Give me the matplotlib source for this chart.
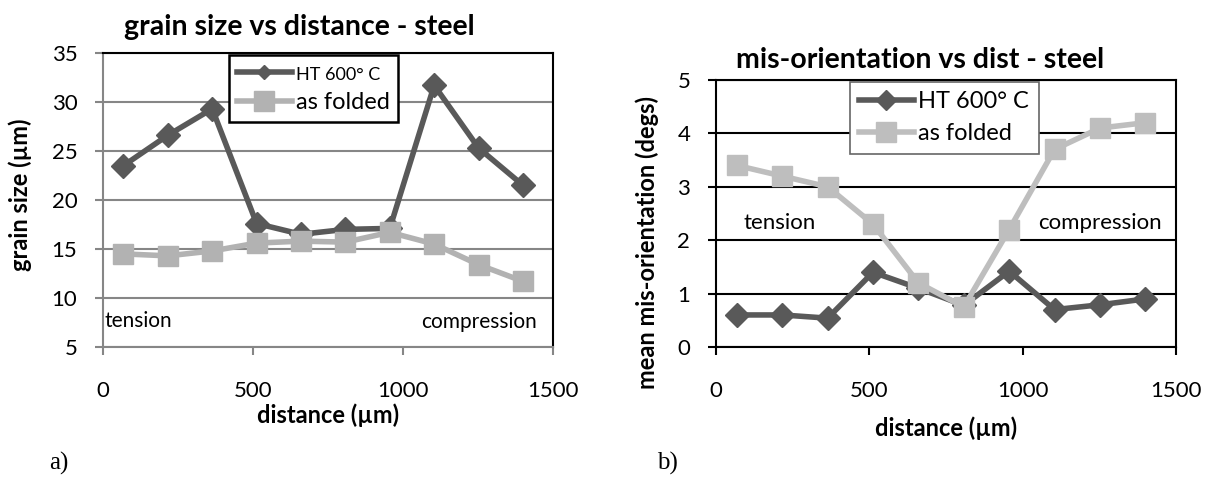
import matplotlib.pyplot as plt
from matplotlib.lines import Line2D

# distance positions (um), same for both panels
distance = [68, 216, 364, 512, 660, 808, 956, 1104, 1252, 1400]

# a) grain size (um)
grain_ht600 = [23.5, 26.6, 29.3, 17.6, 16.5, 17.0, 17.1, 31.7, 25.3, 21.5]
grain_folded = [14.5, 14.3, 14.8, 15.6, 15.8, 15.7, 16.7, 15.5, 13.4, 11.7]

# b) mean mis-orientation (degs)
misor_ht600 = [0.6, 0.6, 0.54, 1.4, 1.1, 0.78, 1.42, 0.7, 0.79, 0.9]
misor_folded = [3.4, 3.2, 3.0, 2.3, 1.2, 0.75, 2.2, 3.7, 4.1, 4.2]

series_labels = ["HT 600° C", "as folded"]

dark = "#595959"
light_a = "#b2b2b2"
light_b = "#bebebe"
grey_axis = "#868686"
lw = 4.0

plt.rcParams["font.family"] = "Lato"

fig = plt.figure(figsize=(12.13, 4.79), dpi=100)

# =============================================================================
# a) grain size vs distance
# =============================================================================
ax1 = fig.add_axes([0.0849, 0.2756, 0.371, 0.6138])
ax1.plot(distance, grain_ht600, color=dark, lw=lw, marker="D", ms=12,
         zorder=3)
ax1.plot(distance, grain_folded, color=light_a, lw=lw, marker="s", ms=14.5,
         zorder=4)
ax1.set_xlim(0, 1500)
ax1.set_ylim(5, 35)
ax1.set_xticks([0, 500, 1000, 1500])
ax1.set_yticks(range(5, 40, 5))
ax1.yaxis.grid(True, color=grey_axis, lw=1.5)
ax1.set_axisbelow(True)
for s in ["top", "right"]:
    ax1.spines[s].set_color("black")
    ax1.spines[s].set_linewidth(1.5)
for s in ["left", "bottom"]:
    ax1.spines[s].set_color(grey_axis)
    ax1.spines[s].set_linewidth(1.5)
ax1.tick_params(axis="both", labelsize=16, color=grey_axis, width=1.5,
                length=5.5)
ax1.tick_params(axis="y", pad=13)
ax1.tick_params(axis="x", pad=19)
ax1.set_xlabel("distance (µm)", fontsize=17, fontweight="bold", va="center")
ax1.xaxis.set_label_coords(0.5, -0.231)
ax1.set_ylabel("grain size (µm)", fontsize=17, fontweight="bold",
               va="center")
ax1.yaxis.set_label_coords(-0.184, 0.517)
ax1.text(5, 7.7, "tension", fontsize=15, va="center", ha="left")
ax1.text(1447, 7.6, "compression", fontsize=15, va="center", ha="right")

h1 = [Line2D([], [], color=dark, lw=lw, marker="D", ms=7),
      Line2D([], [], color=light_a, lw=lw, marker="s", ms=14.5)]
leg1 = ax1.legend(h1, series_labels, loc="upper left", fontsize=17,
                  bbox_to_anchor=(0.28, 0.993), frameon=True, fancybox=False,
                  edgecolor="black", framealpha=1, borderpad=0.35,
                  borderaxespad=0, handlelength=2.3, handletextpad=0.2,
                  labelspacing=0.4)
leg1.get_frame().set_linewidth(1.8)
leg1.get_texts()[0].set_fontsize(13)

fig.text(0.2465, 0.9436, "grain size vs distance - steel", ha="center",
         va="center", fontsize=20.5, fontweight="bold")
fig.text(0.0486, 0.033, "a)", fontsize=18, family="Liberation Serif",
         ha="center", va="center")

# =============================================================================
# b) mis-orientation vs distance
# =============================================================================
ax2 = fig.add_axes([0.5903, 0.2756, 0.3792, 0.5574])
ax2.plot(distance, misor_ht600, color=dark, lw=lw, marker="D", ms=12,
         zorder=3)
ax2.plot(distance, misor_folded, color=light_b, lw=lw, marker="s", ms=14.5,
         zorder=4)
ax2.set_xlim(0, 1500)
ax2.set_ylim(0, 5)
ax2.set_xticks([0, 500, 1000, 1500])
ax2.set_yticks(range(0, 6))
ax2.yaxis.grid(True, color="black", lw=1.5)
ax2.set_axisbelow(True)
for s in ax2.spines.values():
    s.set_color("black")
    s.set_linewidth(1.5)
ax2.tick_params(axis="both", labelsize=16, color="black", width=1.5,
                length=5.5)
ax2.tick_params(axis="y", pad=13)
ax2.tick_params(axis="x", pad=19)
ax2.set_xlabel("distance (µm)", fontsize=17, fontweight="bold", va="center")
ax2.xaxis.set_label_coords(0.5, -0.303)
ax2.set_ylabel("mean mis-orientation (degs)", fontsize=17, fontweight="bold",
               va="center")
ax2.yaxis.set_label_coords(-0.15, 0.39)
ax2.text(88, 2.32, "tension", fontsize=16, va="center", ha="left")
ax2.text(1454, 2.32, "compression", fontsize=16, va="center", ha="right")

h2 = [Line2D([], [], color=dark, lw=lw, marker="D", ms=10),
      Line2D([], [], color=light_b, lw=lw, marker="s", ms=14.5)]
leg2 = ax2.legend(h2, series_labels, loc="upper left", fontsize=17,
                  bbox_to_anchor=(0.291, 0.9925), frameon=True,
                  fancybox=False, edgecolor="#666666", framealpha=1,
                  borderpad=0.4, borderaxespad=0, handlelength=2.3,
                  handletextpad=0.2, labelspacing=0.45)
leg2.get_frame().set_linewidth(1.2)

fig.text(0.7585, 0.8747, "mis-orientation vs dist - steel", ha="center",
         va="center", fontsize=20.5, fontweight="bold")
fig.text(0.55, 0.033, "b)", fontsize=18, family="Liberation Serif",
         ha="center", va="center")

fig.savefig("out.png", dpi=100)
